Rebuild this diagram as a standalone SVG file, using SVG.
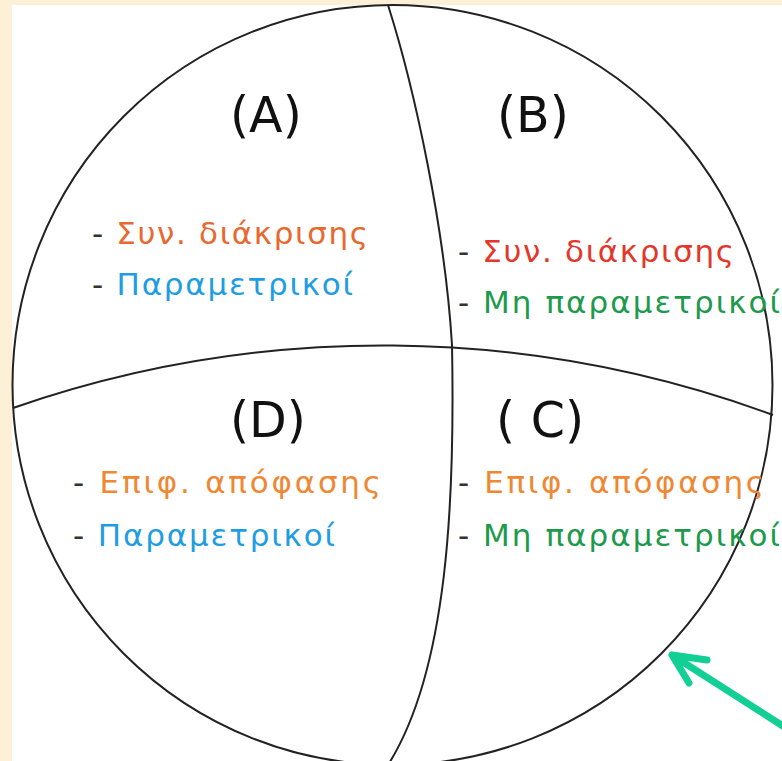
<svg xmlns="http://www.w3.org/2000/svg" width="782" height="761" viewBox="0 0 782 761">
<style>
.ln{fill:none;stroke:#222;stroke-width:2}
.ttl{font-family:"DejaVu Sans",sans-serif;font-size:49px;fill:#111}
.item{font-family:"DejaVu Sans",sans-serif;font-size:31px}
.dash{fill:#333}
.orA{fill:#E8692F}
.orD{fill:#EF8733}
.red{fill:#E4372B}
.blue{fill:#1F9DE2}
.green{fill:#1D9A4C}
.arrow{fill:none;stroke:#12CF95;stroke-width:7;stroke-linecap:round;stroke-linejoin:round}
</style>
<rect x="0" y="0" width="782" height="761" fill="#FCF0D6"/>
<rect x="12" y="5" width="770" height="756" fill="#FFFFFF"/>
<g id="connectors">
<circle class="ln" cx="392.5" cy="385" r="380"/>
<path class="ln" d="M13,408 A1127,1127 0 0 1 773,415"/>
<path class="ln" d="M388,5 C415,90 445,230 452,345 C455,500 448,670 388,765"/>
<path class="arrow" d="M800,737 L672,655 M707,660 L672,655 L689,683"/>
</g>
<g id="A">
<text class="ttl" x="230" y="132">(A)</text>
<text class="item" x="92" y="244" textLength="276" lengthAdjust="spacing"><tspan class="dash">- </tspan><tspan class="orA">Συν. διάκρισης</tspan></text>
<text class="item" x="92" y="295" textLength="261" lengthAdjust="spacing"><tspan class="dash">- </tspan><tspan class="blue">Παραμετρικοί</tspan></text>
</g>
<g id="B">
<text class="ttl" x="497" y="132">(B)</text>
<text class="item" x="458" y="262" textLength="276" lengthAdjust="spacing"><tspan class="dash">- </tspan><tspan class="red">Συν. διάκρισης</tspan></text>
<text class="item" x="458" y="313" textLength="322" lengthAdjust="spacing"><tspan class="dash">- </tspan><tspan class="green">Μη παραμετρικοί</tspan></text>
</g>
<g id="D">
<text class="ttl" x="230" y="437">(D)</text>
<text class="item" x="73" y="493" textLength="308" lengthAdjust="spacing"><tspan class="dash">- </tspan><tspan class="orD">Επιφ. απόφασης</tspan></text>
<text class="item" x="73" y="546" textLength="262" lengthAdjust="spacing"><tspan class="dash">- </tspan><tspan class="blue">Παραμετρικοί</tspan></text>
</g>
<g id="C">
<text class="ttl" x="496" y="437">( C)</text>
<text class="item" x="458" y="493" textLength="306" lengthAdjust="spacing"><tspan class="dash">- </tspan><tspan class="orD">Επιφ. απόφασης</tspan></text>
<text class="item" x="458" y="546" textLength="322" lengthAdjust="spacing"><tspan class="dash">- </tspan><tspan class="green">Μη παραμετρικοί</tspan></text>
</g>
</svg>
